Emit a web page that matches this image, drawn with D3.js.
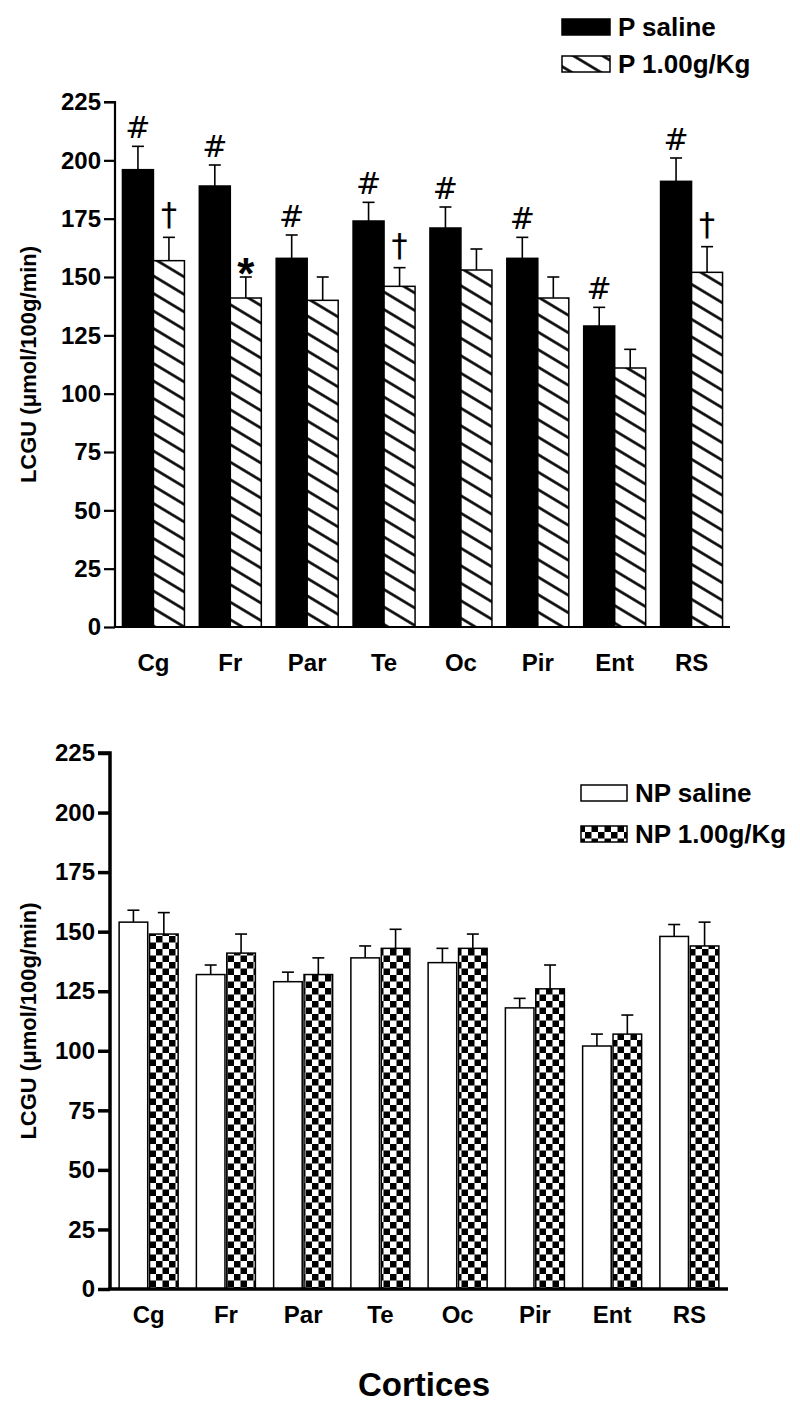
<!DOCTYPE html>
<html>
<head>
<meta charset="utf-8">
<script src="https://cdn.jsdelivr.net/npm/d3@7/dist/d3.min.js"></script>
<style>
html,body{margin:0;padding:0;background:#fff;}
svg{display:block;font-family:"Liberation Sans",Arial,sans-serif;}
</style>
</head>
<body>
<script>
// ---- data ----
const categories = ["Cg","Fr","Par","Te","Oc","Pir","Ent","RS"];
const yTicks = [0,25,50,75,100,125,150,175,200,225];

const pSaline    = [196,189,158,174,171,158,129,191];
const pSalineErr = [10,9,10,8,9,9,8,10];
const pDrug      = [157,141,140,146,153,141,111,152];
const pDrugErr   = [10,9,10,8,9,9,8,11];
const pSalineMarks = ["#","#","#","#","#","#","#","#"];
const pDrugMarks   = ["†","*","","†","","","","†"];

const npSaline    = [154,132,129,139,137,118,102,148];
const npSalineErr = [5,4,4,5,6,4,5,5];
const npDrug      = [149,141,132,143,143,126,107,144];
const npDrugErr   = [9,8,7,8,6,10,8,10];

const legendTop = ["P saline","P 1.00g/Kg"];
const legendBot = ["NP saline","NP 1.00g/Kg"];
const yLabel = "LCGU (μmol/100g/min)";
const xLabel = "Cortices";

// ---- drawing ----
const W = 800, H = 1416;
const svg = d3.select("body").append("svg").attr("width",W).attr("height",H);
const defs = svg.append("defs");

// hatch pattern
const hatch = defs.append("pattern").attr("id","hatch")
  .attr("patternUnits","userSpaceOnUse").attr("width",20).attr("height",15)
  .attr("patternTransform","rotate(31)");
hatch.append("rect").attr("width",20).attr("height",15).attr("fill","#fff");
hatch.append("line").attr("x1",0).attr("x2",20).attr("y1",7.5).attr("y2",7.5)
  .attr("stroke","#000").attr("stroke-width",2.6);

// checker pattern
const cs = 6.5;
const checker = defs.append("pattern").attr("id","checker")
  .attr("patternUnits","userSpaceOnUse").attr("width",cs*2).attr("height",cs*2);
checker.append("rect").attr("width",cs*2).attr("height",cs*2).attr("fill","#fff");
checker.append("rect").attr("width",cs).attr("height",cs).attr("fill","#000");
checker.append("rect").attr("x",cs).attr("y",cs).attr("width",cs).attr("height",cs).attr("fill","#000");

function panel(opts){
  const g = svg.append("g");
  const y = d3.scaleLinear().domain([0,225]).range([opts.y0, opts.y1]);
  const x = d3.scaleBand().domain(categories).range([opts.x0, opts.x1]).padding(0);
  const bw = x.bandwidth();
  const inner = d3.scaleBand().domain([0,1])
    .range([(bw-opts.groupW)/2,(bw+opts.groupW)/2]).paddingInner(opts.gap);
  const series = opts.series;
  series.forEach((s,si)=>{
    const bars = g.append("g");
    s.values.forEach((v,i)=>{
      const bx = x(categories[i]) + inner(si);
      const w = inner.bandwidth();
      const cx = bx + w/2;
      const top = y(v + s.err[i]);
      bars.append("line").attr("x1",cx).attr("x2",cx).attr("y1",y(v)).attr("y2",top)
        .attr("stroke","#000").attr("stroke-width",1.6);
      bars.append("line").attr("x1",cx-6).attr("x2",cx+6).attr("y1",top).attr("y2",top)
        .attr("stroke","#000").attr("stroke-width",1.6);
      bars.append("rect").attr("x",bx).attr("y",y(v)).attr("width",w).attr("height",y(0)-y(v))
        .attr("fill",s.fill).attr("stroke","#000").attr("stroke-width",1.5);
      if (s.marks && s.marks[i]){
        const m = s.marks[i];
        let fs = 30, off = 8, fw = "normal", ff = "DejaVu Sans";
        if (m === "†"){ fs = 32; off = 12; }
        if (m === "*"){ fs = 44; off = -12; fw = "bold"; ff = "Liberation Sans"; }
        bars.append("text").attr("x",cx).attr("y",top-off)
          .attr("text-anchor","middle").attr("font-size",fs).attr("font-weight",fw)
          .attr("font-family",ff).text(m);
      }
    });
  });
  // y axis
  const ya = g.append("g").attr("transform",`translate(${opts.x0},0)`)
    .call(d3.axisLeft(y).tickValues(yTicks).tickSize(opts.tick).tickPadding(3));
  ya.select(".domain").attr("stroke-width",opts.axisW).attr("d",`M0,${opts.y0}V${opts.y1}H${-opts.tick}`);
  ya.selectAll(".tick line").attr("stroke-width",opts.axisW);
  ya.selectAll(".tick text").attr("font-size",24).attr("font-weight","bold").attr("fill","#000");
  // x axis
  const xa = g.append("g").attr("transform",`translate(0,${opts.y0})`)
    .call(d3.axisBottom(x).tickSize(0).tickPadding(opts.xPad));
  xa.select(".domain").attr("stroke-width",opts.axisW)
    .attr("d",`M${opts.x0 - opts.axisW/2},0H${opts.x1}`);
  xa.selectAll(".tick text").attr("font-size",24).attr("font-weight","bold").attr("fill","#000");
  // y label
  g.append("text").attr("transform",`translate(${opts.labX},${(opts.y0+opts.y1)/2}) rotate(-90)`)
    .attr("text-anchor","middle").attr("font-size",22).attr("font-weight","bold").text(yLabel);
  // legend
  const lg = g.append("g");
  opts.legend.forEach((l,i)=>{
    lg.append("rect").attr("x",opts.legX).attr("y",opts.legY[i]).attr("width",opts.legW).attr("height",16)
      .attr("fill",series[i].fill).attr("stroke","#000").attr("stroke-width",1.5);
    lg.append("text").attr("x",opts.legX+opts.legW+8).attr("y",opts.legY[i]+17)
      .attr("font-size",26).attr("font-weight","bold").text(l);
  });
}

panel({
  x0:115, x1:730, y0:627, y1:102, groupW:62, gap:0, tick:11, axisW:2.2, xPad:27, labX:36,
  series:[
    {values:pSaline, err:pSalineErr, fill:"#000", marks:pSalineMarks},
    {values:pDrug, err:pDrugErr, fill:"url(#hatch)", marks:pDrugMarks}
  ],
  legend:legendTop, legX:562, legY:[19,56], legW:48
});

panel({
  x0:110, x1:728, y0:1289, y1:753, groupW:59, gap:0.06, tick:12, axisW:3.5, xPad:17, labX:36,
  series:[
    {values:npSaline, err:npSalineErr, fill:"#fff"},
    {values:npDrug, err:npDrugErr, fill:"url(#checker)"}
  ],
  legend:legendBot, legX:581, legY:[785,826], legW:46
});

svg.append("text").attr("x",424).attr("y",1396).attr("text-anchor","middle")
  .attr("font-size",33).attr("font-weight","bold").text(xLabel);
</script>
</body>
</html>
